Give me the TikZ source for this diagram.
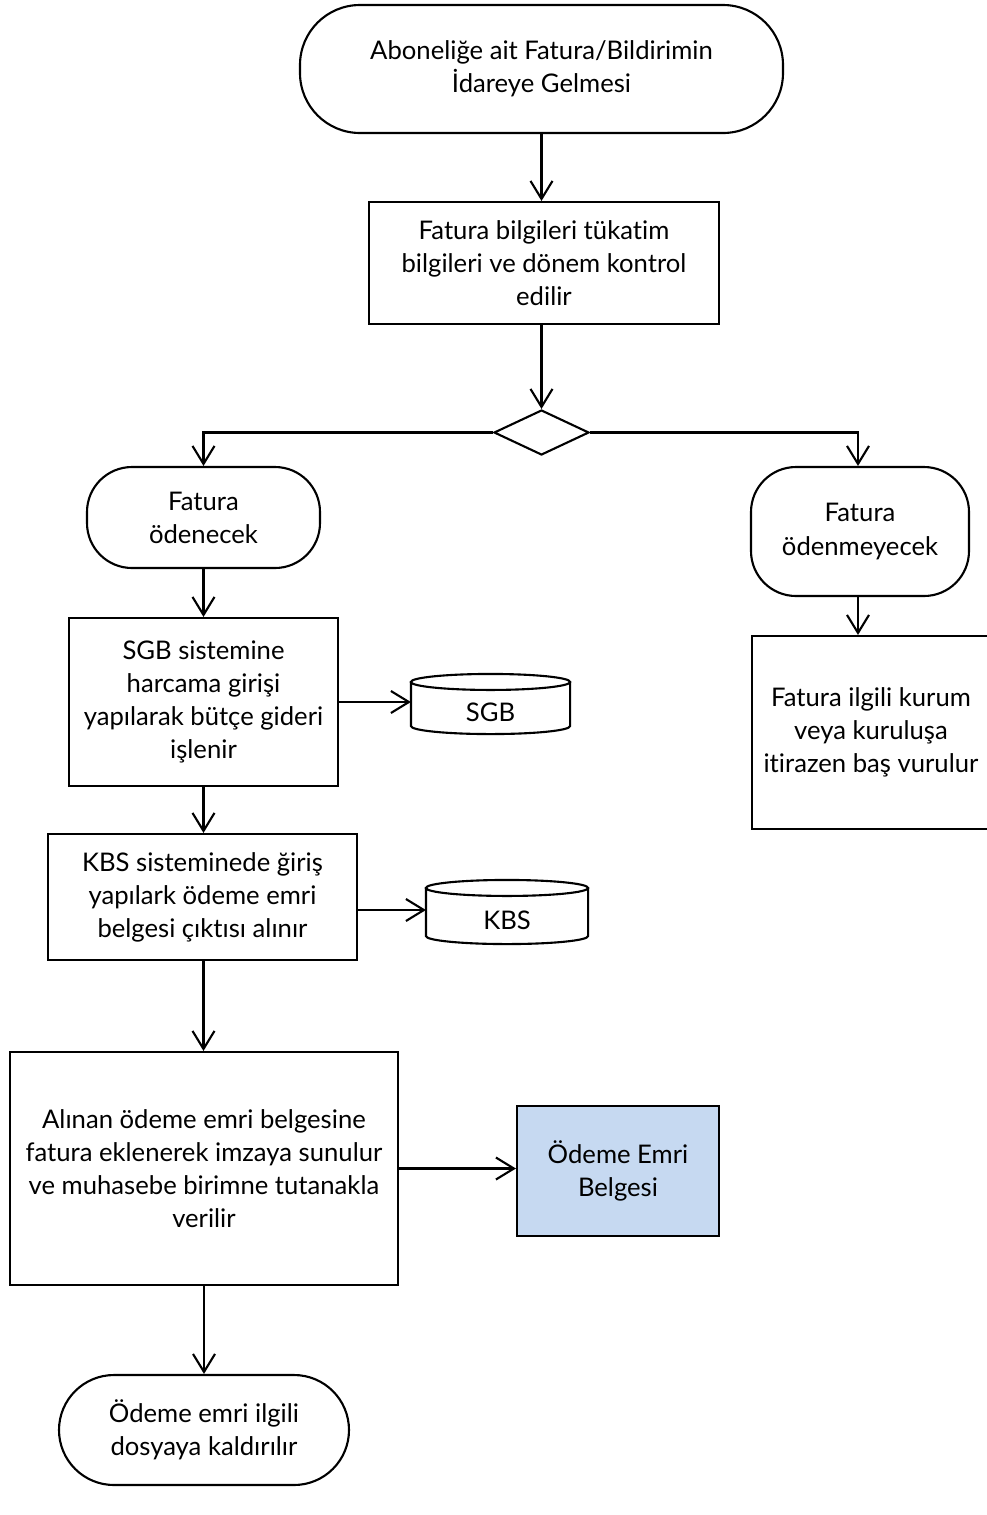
\documentclass[tikz,border=0pt]{standalone}
\usepackage{fontspec}
\setmainfont[Ligatures=NoCommon]{Lato}
\usepackage{tikz}
\usetikzlibrary{arrows.meta,shapes.geometric,positioning,calc}
\definecolor{belgeblue}{HTML}{C6D9F1}

\begin{document}
\begin{tikzpicture}[-,>={Straight Barb[length=1.8mm,width=2.2mm]},line width=0.6pt,
  every node/.style={align=center,inner sep=0pt,font=\fontsize{7.3}{9.4}\selectfont},
  term/.style={draw,rectangle,rounded corners=0.5cm},
  box/.style={draw,rectangle},
  db/.style={rectangle}]
\useasboundingbox (0,0) rectangle (9.87,-15.15);

\node[term,minimum width=4.83cm,minimum height=1.28cm,rounded corners=0.6cm] (start) at (5.415,-0.69) {Aboneliğe ait Fatura/Bildirimin\\İdareye Gelmesi};
\node[box,minimum width=3.5cm,minimum height=1.22cm] (check) at (5.44,-2.63) {Fatura bilgileri tükatim\\bilgileri ve dönem kontrol\\edilir};
\node[draw,diamond,minimum width=0.95cm,minimum height=0.45cm] (dec) at (5.415,-4.325) {};

\node[term,minimum width=2.33cm,minimum height=1.01cm,rounded corners=0.45cm] (pay) at (2.035,-5.175) {Fatura\\ödenecek};
\node[term,minimum width=2.18cm,minimum height=1.29cm,rounded corners=0.45cm] (nopay) at (8.6,-5.315) {Fatura\\ödenmeyecek};

\node[box,minimum width=2.69cm,minimum height=1.68cm] (sgb) [below of=pay,node distance=1.845cm] {SGB sistemine\\harcama girişi\\yapılarak bütçe gideri\\işlenir};
\node[db,minimum width=1.57cm,minimum height=0.42cm] (sgbdb) at (4.905,-7.12) {SGB};
\node[box,minimum width=2.38cm,minimum height=1.93cm] (objection) at (8.71,-7.325) {Fatura ilgili kurum\\veya kuruluşa\\itirazen baş vurulur};

\node[box,minimum width=3.09cm,minimum height=1.26cm] (kbs) at (2.025,-8.97) {KBS sisteminede ğiriş\\yapılark ödeme emri\\belgesi çıktısı alınır};
\node[db,minimum width=1.6cm,minimum height=0.46cm] (kbsdb) at (5.07,-9.2) {KBS};

\node[box,minimum width=3.88cm,minimum height=2.33cm] (deliver) at (2.04,-11.685) {Alınan ödeme emri belgesine\\fatura eklenerek imzaya sunulur\\ve muhasebe birimne tutanakla\\verilir};
\node[box,fill=belgeblue,minimum width=2.02cm,minimum height=1.3cm] (belge) at (6.18,-11.71) {Ödeme Emri\\Belgesi};

\node[term,minimum width=2.9cm,minimum height=1.1cm,rounded corners=0.55cm] (archive) [below of=deliver,node distance=2.615cm] {Ödeme emri ilgili\\dosyaya kaldırılır};

% database drums
\foreach \db in {sgbdb,kbsdb}
  \draw let \p1=(\db.west), \p2=(\db.east), \n1={(\x2-\x1)/2} in
    ([yshift=0.08cm]\db.north) ellipse [x radius=\n1, y radius=0.08cm]
    ([yshift=0.08cm]\db.north west) -- ([yshift=0.08cm]\db.south west)
      arc [start angle=180, end angle=360, x radius=\n1, y radius=0.08cm]
      -- ([yshift=0.08cm]\db.north east);

\draw[->] (start.south) -- (start.south |- check.north);
\draw[->] (check.south -| dec.north) -- (dec.north);
\draw[->] (dec.west) -| (pay.north);
\draw[->] (dec.east) -| ([xshift=-0.02cm]nopay.north);
\draw[->] (pay) -- (sgb);
\draw[->] (sgb.east) -- (sgb.east -| sgbdb.west);
\draw[->] ([xshift=-0.02cm]nopay.south) -- ([xshift=-0.02cm]nopay.south |- objection.north);
\draw[->] (sgb.south) -- (sgb.south |- kbs.north);
\draw[->] ([yshift=-0.13cm]kbs.east) -- ([yshift=-0.13cm]kbs.east -| kbsdb.west);
\draw[->] (kbs.south -| sgb.south) -- (sgb.south |- deliver.north);
\draw[->] (deliver.east) -- (deliver.east -| belge.west);
\draw[->] (deliver) -- (archive);
\end{tikzpicture}
\end{document}
